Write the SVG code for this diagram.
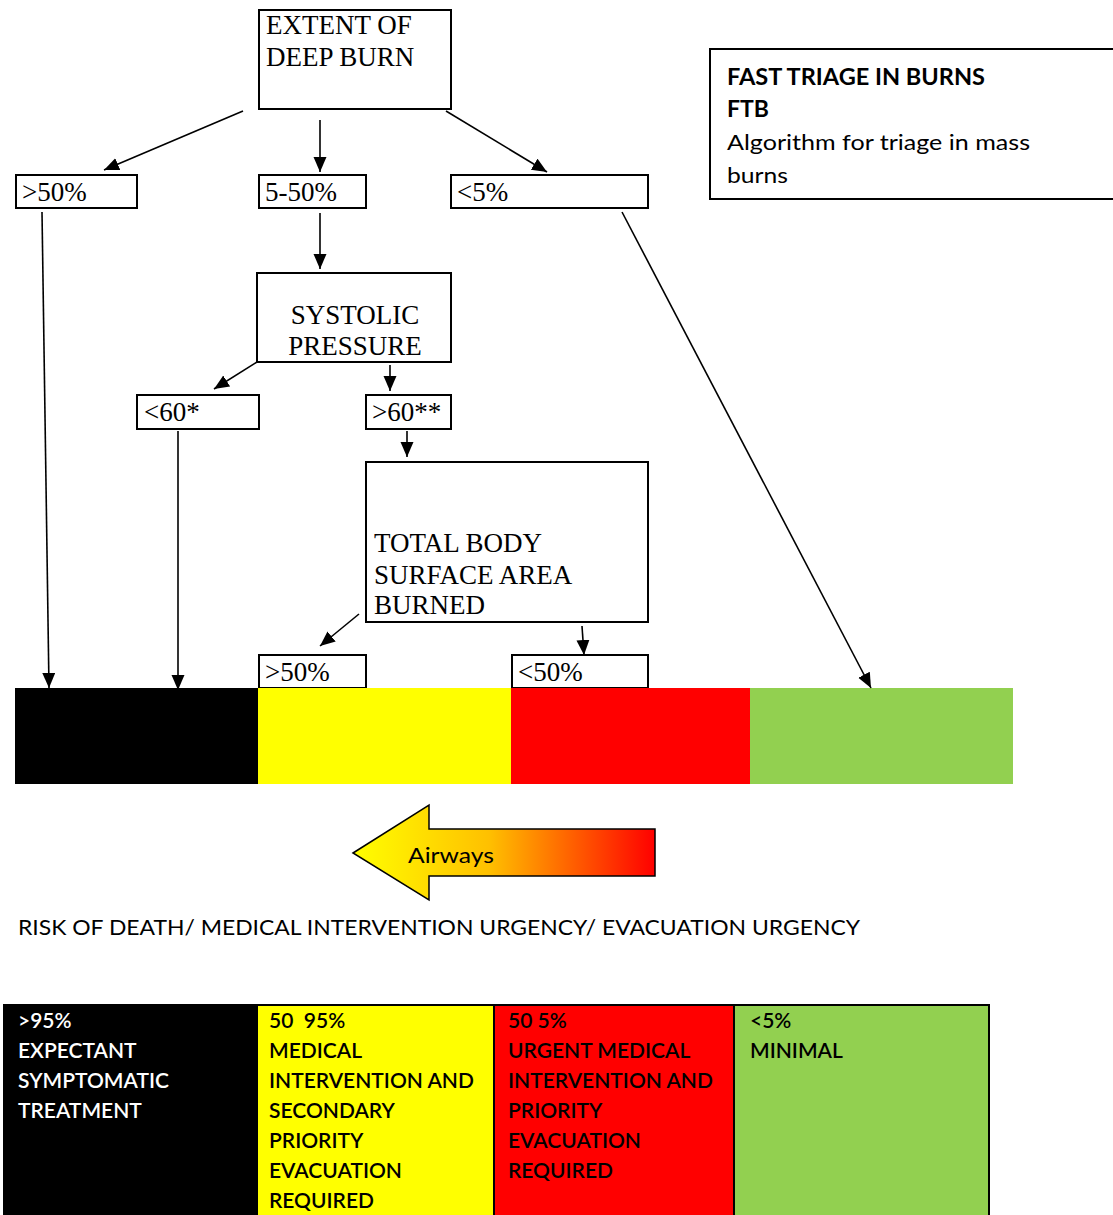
<svg xmlns="http://www.w3.org/2000/svg" width="1113" height="1215" viewBox="0 0 1113 1215">
<defs>
<marker id="ah" markerUnits="userSpaceOnUse" markerWidth="16" markerHeight="14" refX="15" refY="6.5" orient="auto">
<path d="M0,0 L15,6.5 L0,13 Z" fill="#000"/>
</marker>
<linearGradient id="grad" x1="0" y1="0" x2="1" y2="0">
<stop offset="0" stop-color="#FFFF00"/>
<stop offset="0.45" stop-color="#FFC000"/>
<stop offset="1" stop-color="#FF0000"/>
</linearGradient>
<style>
.box{fill:#fff;stroke:#000;stroke-width:2}
.st{font-family:"Liberation Serif","Times New Roman",serif;font-size:27px;fill:#000}
.sn{font-family:Lato,"Open Sans",sans-serif;font-size:22px;fill:#000}
.sb{font-family:Lato,"Open Sans",sans-serif;font-size:23px;font-weight:bold;fill:#000}
.tc{font-family:Lato,"Open Sans",sans-serif;font-size:21px;font-weight:600}
.cn line{stroke:#000;stroke-width:1.6;marker-end:url(#ah)}
</style>
</defs>
<rect width="1113" height="1215" fill="#fff"/>

<g id="extent"><rect class="box" x="259" y="10" width="192" height="99"/>
<text class="st" x="266" y="34">EXTENT OF</text><text class="st" x="266" y="66">DEEP BURN</text></g>

<g id="gt50a"><rect class="box" x="16" y="175" width="121" height="33"/><text class="st" x="22" y="201">&gt;50%</text></g>
<g id="r5_50"><rect class="box" x="259" y="175" width="107" height="33"/><text class="st" x="265" y="201">5-50%</text></g>
<g id="lt5"><rect class="box" x="451" y="175" width="197" height="33"/><text class="st" x="457" y="201">&lt;5%</text></g>

<g id="systolic"><rect class="box" x="257" y="273" width="194" height="89"/>
<text class="st" x="355" y="324" text-anchor="middle">SYSTOLIC</text><text class="st" x="355" y="355" text-anchor="middle">PRESSURE</text></g>

<g id="lt60"><rect class="box" x="137" y="395" width="122" height="34"/><text class="st" x="144" y="421">&lt;60*</text></g>
<g id="gt60"><rect class="box" x="366" y="395" width="85" height="34"/><text class="st" x="372" y="421">&gt;60**</text></g>

<g id="tbsa"><rect class="box" x="366" y="462" width="282" height="160"/>
<text class="st" x="374" y="552">TOTAL BODY</text><text class="st" x="374" y="584">SURFACE AREA</text><text class="st" x="374" y="614">BURNED</text></g>

<g id="gt50b"><rect class="box" x="259" y="655" width="107" height="33"/><text class="st" x="265" y="681">&gt;50%</text></g>
<g id="lt50"><rect class="box" x="512" y="655" width="136" height="33"/><text class="st" x="518" y="681">&lt;50%</text></g>

<g id="colorbar">
<rect x="15" y="688" width="243" height="96" fill="#000"/>
<rect x="258" y="688" width="253" height="96" fill="#FFFF00"/>
<rect x="511" y="688" width="239" height="96" fill="#FF0000"/>
<rect x="750" y="688" width="263" height="96" fill="#92D050"/>
</g>

<g id="connectors" class="cn">
<line x1="243" y1="111" x2="104" y2="170"/>
<line x1="320" y1="120" x2="320" y2="172"/>
<line x1="446" y1="111" x2="547" y2="172"/>
<line x1="42" y1="212" x2="49" y2="688"/>
<line x1="320" y1="213" x2="320" y2="269"/>
<line x1="622" y1="212" x2="871" y2="688"/>
<line x1="257" y1="362" x2="214" y2="389"/>
<line x1="390" y1="365" x2="390" y2="391"/>
<line x1="178" y1="431" x2="178" y2="690"/>
<line x1="407" y1="431" x2="407" y2="457"/>
<line x1="359" y1="614" x2="320" y2="646"/>
<line x1="582" y1="626" x2="584" y2="655"/>
</g>

<g id="ftb"><rect class="box" x="710" y="49" width="410" height="150"/>
<text class="sb" x="727" y="85" textLength="258" lengthAdjust="spacingAndGlyphs">FAST TRIAGE IN BURNS</text>
<text class="sb" x="727" y="117">FTB</text>
<text class="sn" x="727" y="150" textLength="303" lengthAdjust="spacingAndGlyphs">Algorithm for triage in mass</text>
<text class="sn" x="727" y="183" textLength="61" lengthAdjust="spacingAndGlyphs">burns</text></g>

<g id="airways">
<path d="M353,853 L429,805 L429,829 L655,829 L655,876 L429,876 L429,900 Z" fill="url(#grad)" stroke="#000" stroke-width="1.5"/>
<text class="sn" x="408" y="863" textLength="86" lengthAdjust="spacingAndGlyphs">Airways</text>
</g>

<text class="sn" x="18" y="935" textLength="842" lengthAdjust="spacingAndGlyphs">RISK OF DEATH/ MEDICAL INTERVENTION URGENCY/ EVACUATION URGENCY</text>

<g id="table">
<rect x="4" y="1005" width="253" height="215" fill="#000" stroke="#000" stroke-width="2"/>
<rect x="257" y="1005" width="237" height="215" fill="#FFFF00" stroke="#000" stroke-width="2"/>
<rect x="494" y="1005" width="240" height="215" fill="#FF0000" stroke="#000" stroke-width="2"/>
<rect x="734" y="1005" width="255" height="215" fill="#92D050" stroke="#000" stroke-width="2"/>
<g class="tc" fill="#fff">
<text x="18" y="1028">&gt;95%</text><text x="18" y="1058">EXPECTANT</text><text x="18" y="1088">SYMPTOMATIC</text><text x="18" y="1118">TREATMENT</text>
</g>
<g class="tc" fill="#000">
<text x="269" y="1028">50&#160; 95%</text><text x="269" y="1058">MEDICAL</text><text x="269" y="1088">INTERVENTION AND</text><text x="269" y="1118">SECONDARY</text><text x="269" y="1148">PRIORITY</text><text x="269" y="1178">EVACUATION</text><text x="269" y="1208">REQUIRED</text>
<text x="508" y="1028">50 5%</text><text x="508" y="1058">URGENT MEDICAL</text><text x="508" y="1088">INTERVENTION AND</text><text x="508" y="1118">PRIORITY</text><text x="508" y="1148">EVACUATION</text><text x="508" y="1178">REQUIRED</text>
<text x="750" y="1028">&lt;5%</text><text x="750" y="1058">MINIMAL</text>
</g>
</g>
</svg>
